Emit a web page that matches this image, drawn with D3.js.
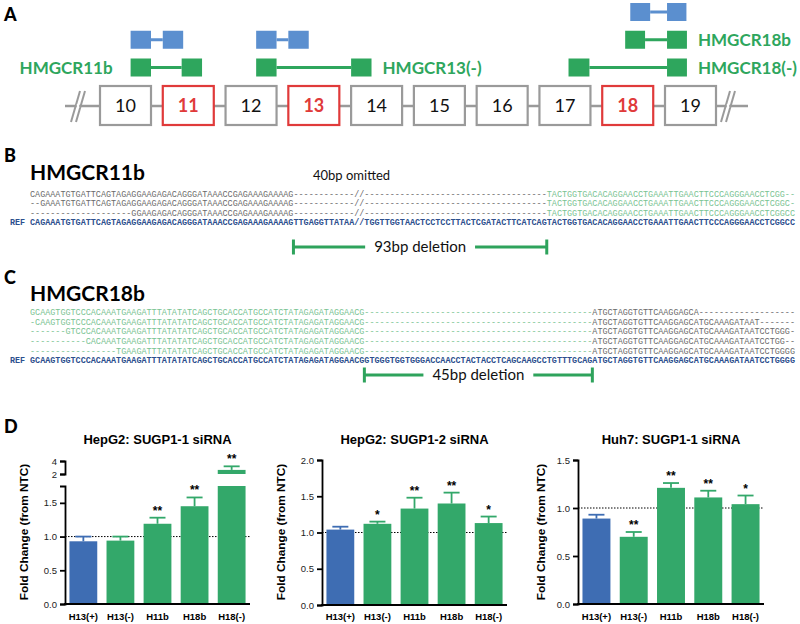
<!DOCTYPE html>
<html><head><meta charset="utf-8">
<script src="https://cdn.jsdelivr.net/npm/d3@7"></script>
<style>body{margin:0;background:#fff}svg{display:block}</style>
</head><body><svg id="c" width="800" height="624"></svg>
<script>
// ---------- Panel A data ----------
const exonLabels = ["10","11","12","13","14","15","16","17","18","19"];
const exonHighlighted = [false,true,false,true,false,false,false,false,true,false];
const isoformNames = ["", "HMGCR11b", "", "HMGCR13(-)", "", "HMGCR18b", "HMGCR18(-)"];
const isoformKinds = ["ref","alt","ref","alt","ref","alt","alt"];
const isoformRows = [1,2,1,2,0,1,2];
const isoformLeftExon = ["10","10","12","12","18","18","17"];
const isoformLeftSpan = [[0.6,1.0],[0.6,1.0],[0.6,1.0],[0.6,1.0],[0.55,0.94],[0.45,0.84],[0.57,0.98]];
const isoformRightExon = ["11","11","13","14","19","19","19"];
const isoformRightSpan = [[0,0.4],[0.37,0.77],[0,0.4],[0,0.4],[0.04,0.42],[0.04,0.43],[0.04,0.43]];
const isoformLabelSide = [null,"left",null,"right",null,"right","right"];

// ---------- Panel B data ----------
const seqBTitle = "HMGCR11b";
const seqBNote = "40bp omitted";
const seqBRef = "CAGAAATGTGATTCAGTAGAGGAAGAGACAGGGATAAACCGAGAAAGAAAAGTTGAGGTTATAA//TGGTTGGTAACTCCTCCTTACTCGATACTTCATCAGTACTGGTGACACAGGAACCTGAAATTGAACTTCCCAGGGAACCTCGGCC";
const seqBLeftLen = 52, seqBDelLen = 50, seqBOmitCol = 64;
const seqBReads = [
 ["CAGAAATGTGATTCAGTAGAGGAAGAGACAGGGATAAACCGAGAAAGAAAAG","TACTGGTGACACAGGAACCTGAAATTGAACTTCCCAGGGAACCTCGG"],
 ["GAAATGTGATTCAGTAGAGGAAGAGACAGGGATAAACCGAGAAAGAAAAG","TACTGGTGACACAGGAACCTGAAATTGAACTTCCCAGGGAACCTCGGC"],
 ["GGAAGAGACAGGGATAAACCGAGAAAGAAAAG","TACTGGTGACACAGGAACCTGAAATTGAACTTCCCAGGGAACCTCGGCC"]
];
const seqBDeletionLabel = "93bp deletion";

// ---------- Panel C data ----------
const seqCTitle = "HMGCR18b";
const seqCRef = "GCAAGTGGTCCCACAAATGAAGATTTATATATCAGCTGCACCATGCCATCTATAGAGATAGGAACGGTGGGTGGTGGGACCAACCTACTACCTCAGCAAGCCTGTTTGCAGATGCTAGGTGTTCAAGGAGCATGCAAAGATAATCCTGGGG";
const seqCLeftLen = 66, seqCDelLen = 45;
const seqCReads = [
 ["GCAAGTGGTCCCACAAATGAAGATTTATATATCAGCTGCACCATGCCATCTATAGAGATAGGAACG","ATGCTAGGTGTTCAAGGAGCA"],
 ["CAAGTGGTCCCACAAATGAAGATTTATATATCAGCTGCACCATGCCATCTATAGAGATAGGAACG","ATGCTAGGTGTTCAAGGAGCATGCAAAGATAAT"],
 ["GTCCCACAAATGAAGATTTATATATCAGCTGCACCATGCCATCTATAGAGATAGGAACG","ATGCTAGGTGTTCAAGGAGCATGCAAAGATAATCCTGGG"],
 ["CACAAATGAAGATTTATATATCAGCTGCACCATGCCATCTATAGAGATAGGAACG","ATGCTAGGTGTTCAAGGAGCATGCAAAGATAATCCTGG"],
 ["TGAAGATTTATATATCAGCTGCACCATGCCATCTATAGAGATAGGAACG","ATGCTAGGTGTTCAAGGAGCATGCAAAGATAATCCTGGGG"]
];
const seqCDeletionLabel = "45bp deletion";

// ---------- Panel D data ----------
const categories = ["H13(+)","H13(-)","H11b","H18b","H18(-)"];
const barKinds = ["ref","alt","alt","alt","alt"];
const chartTitles = ["HepG2: SUGP1-1 siRNA","HepG2: SUGP1-2 siRNA","Huh7: SUGP1-1 siRNA"];
const yAxisTitle = "Fold Change (from NTC)";
const hepg2si1Mean = [0.93,0.94,1.19,1.45,2.63];
const hepg2si1Err  = [0.07,0.06,0.09,0.13,0.55];
const hepg2si1Sig  = ["","","**","**","**"];
const hepg2si2Mean = [1.04,1.12,1.33,1.40,1.13];
const hepg2si2Err  = [0.04,0.03,0.15,0.15,0.09];
const hepg2si2Sig  = ["","*","**","**","*"];
const huh7si1Mean  = [0.89,0.70,1.21,1.11,1.04];
const huh7si1Err   = [0.04,0.05,0.05,0.07,0.09];
const huh7si1Sig   = ["","**","**","**","*"];
const yTicksHepg2si1 = [0,0.5,1.0,1.5];
const yTicksHepg2si1Upper = [2,4];
const yTicksHepg2si2 = [0,0.5,1.0,1.5,2.0];
const yTicksHuh7si1 = [0,0.5,1.0,1.5];

// ---------- styles ----------
const GREEN_A = "#2ea65d", BLUE_A = "#5b8fcf", GRAY = "#9a9a9a", RED = "#e03a3a";
const BAR_BLUE = "#3e6db3", BAR_GREEN = "#33a86a";
const SANS = "Lato, 'Open Sans', sans-serif";
const ARIAL = "'Liberation Sans', Arial, sans-serif";
const MONO = "'Liberation Mono', 'Courier New', monospace";

const svg = d3.select("#c");

// panel letters
[["A",21],["B",162],["C",284],["D",433]].forEach(([t,y]) => {
  svg.append("text").attr("x",4).attr("y",y).text(t)
    .attr("font-family",SANS).attr("font-weight",900).attr("font-size",18).attr("fill","#000");
});

// ================= Panel A =================
const exW = 51, exTop = 86, exH = 39, backboneY = 106;
const ex = d3.scaleLinear().domain([0, exonLabels.length-1]).range([100, 665]);
const exX = lab => ex(exonLabels.indexOf(lab));
const gA = svg.append("g");
gA.append("line").attr("x1", ex(0)-35).attr("x2", ex(9)+exW+32)
  .attr("y1", backboneY).attr("y2", backboneY).attr("stroke", GRAY).attr("stroke-width", 2.5);
// break marks
[ex(0)-22, ex(9)+exW+12].forEach(cx => {
  [-2.5, 2.5].forEach(o => {
    gA.append("line").attr("x1", cx+o-4.5).attr("y1", backboneY+16).attr("x2", cx+o+4.5).attr("y2", backboneY-15)
      .attr("stroke", GRAY).attr("stroke-width", 2);
  });
  gA.append("rect").attr("x", cx-1.2).attr("y", backboneY-2).attr("width", 2.4).attr("height", 4).attr("fill","#fff");
});
exonLabels.forEach((lab,i) => {
  const hl = exonHighlighted[i];
  gA.append("rect").attr("x", ex(i)).attr("y", exTop).attr("width", exW).attr("height", exH)
    .attr("fill","#fff").attr("stroke", hl ? RED : GRAY).attr("stroke-width", 2.2);
  gA.append("text").attr("x", ex(i)+exW/2).attr("y", exTop+exH/2+6.5).attr("text-anchor","middle")
    .attr("font-family", SANS).attr("font-size", 18).attr("font-weight", hl ? 700 : 400)
    .attr("fill", hl ? RED : "#111").text(lab);
});
const rowY = d3.scaleLinear().domain([0,2]).range([12, 67.5]);
const boxW = w => w*exW;
isoformNames.forEach((name,i) => {
  const col = isoformKinds[i] === "ref" ? BLUE_A : GREEN_A;
  const cy = rowY(isoformRows[i]);
  const lx0 = exX(isoformLeftExon[i]) + isoformLeftSpan[i][0]*exW;
  const lx1 = exX(isoformLeftExon[i]) + isoformLeftSpan[i][1]*exW;
  const rx0 = exX(isoformRightExon[i]) + isoformRightSpan[i][0]*exW;
  const rx1 = exX(isoformRightExon[i]) + isoformRightSpan[i][1]*exW;
  gA.append("line").attr("x1", lx1).attr("x2", rx0).attr("y1", cy).attr("y2", cy)
    .attr("stroke", col).attr("stroke-width", 3);
  gA.append("rect").attr("x", lx0).attr("y", cy-9).attr("width", lx1-lx0).attr("height", 18).attr("fill", col);
  gA.append("rect").attr("x", rx0).attr("y", cy-9).attr("width", rx1-rx0).attr("height", 18).attr("fill", col);
  if (isoformLabelSide[i]) {
    const left = isoformLabelSide[i] === "left";
    gA.append("text").attr("x", left ? lx0-18 : rx1+11).attr("y", cy+6)
      .attr("text-anchor", left ? "end" : "start")
      .attr("font-family", SANS).attr("font-weight", 700).attr("font-size", 17)
      .attr("fill", col).text(name);
  }
});

// ================= Sequence panels =================
const NCOL = 151;
const col = d3.scaleLinear().domain([0, NCOL]).range([30, 795]);
const SEQ_GRAY = "#6a6a6a", SEQ_GREEN = "#79c392", SEQ_REF = "#2d4f8e", DEL_GREEN = "#2ea35c";
function seqText(g, startCol, str, y, color, weight) {
  if (!str.length) return;
  g.append("text").attr("x", col(startCol)).attr("y", y)
    .attr("textLength", col(startCol+str.length)-col(startCol)).attr("lengthAdjust","spacingAndGlyphs")
    .attr("font-family", MONO).attr("font-size", 8.4).attr("font-weight", weight || 400)
    .attr("fill", color).text(str);
}
const dashes = n => "-".repeat(Math.max(0,n));
function delMarker(g, c0, c1, y, label) {
  const x0 = col(c0), x1 = col(c1), xm = (x0+x1)/2;
  const t = g.append("text").attr("x", xm).attr("y", y+5).attr("text-anchor","middle")
    .attr("font-family", SANS).attr("font-size", 15).attr("fill","#111").text(label);
  const tw = t.node().getComputedTextLength();
  g.append("line").attr("x1", x0).attr("x2", xm-tw/2-9).attr("y1", y).attr("y2", y).attr("stroke", DEL_GREEN).attr("stroke-width", 3);
  g.append("line").attr("x1", xm+tw/2+9).attr("x2", x1).attr("y1", y).attr("y2", y).attr("stroke", DEL_GREEN).attr("stroke-width", 3);
  [x0, x1].forEach(x => g.append("line").attr("x1", x).attr("x2", x).attr("y1", y-7.5).attr("y2", y+7.5)
    .attr("stroke", DEL_GREEN).attr("stroke-width", 3));
}

// Panel B
const gB = svg.append("g");
gB.append("text").attr("x", 30).attr("y", 180).attr("font-family", SANS).attr("font-weight", 700)
  .attr("font-size", 21).attr("fill","#000").text(seqBTitle);
gB.append("text").attr("x", 313).attr("y", 180).attr("font-family", SANS).attr("font-size", 13)
  .attr("fill","#111").text(seqBNote);
const rowB = d3.scaleLinear().domain([0, seqBReads.length]).range([197, 225]);
seqBReads.forEach((r,i) => {
  const y = rowB(i);
  const left = dashes(seqBLeftLen - r[0].length) + r[0];
  let mid = dashes(seqBDelLen);
  const o = seqBOmitCol - seqBLeftLen;
  mid = mid.slice(0,o) + "//" + mid.slice(o+2);
  seqText(gB, 0, left + mid, y, SEQ_GRAY);
  const right = r[1] + dashes(NCOL - seqBLeftLen - seqBDelLen - r[1].length);
  seqText(gB, seqBLeftLen + seqBDelLen, right, y, SEQ_GREEN);
});
{
  const y = rowB(seqBReads.length);
  gB.append("text").attr("x", 10).attr("y", y).attr("font-family", MONO).attr("font-size", 8.4)
    .attr("font-weight",700).attr("fill", SEQ_REF).text("REF");
  seqText(gB, 0, seqBRef, y, SEQ_REF, 700);
}
delMarker(gB, seqBLeftLen, seqBLeftLen + seqBDelLen, 247, seqBDeletionLabel);

// Panel C
const gC = svg.append("g");
gC.append("text").attr("x", 30).attr("y", 301).attr("font-family", SANS).attr("font-weight", 700)
  .attr("font-size", 21).attr("fill","#000").text(seqCTitle);
const rowC = d3.scaleLinear().domain([0, seqCReads.length]).range([315, 363.3]);
seqCReads.forEach((r,i) => {
  const y = rowC(i);
  const left = dashes(seqCLeftLen - r[0].length) + r[0] + dashes(seqCDelLen);
  seqText(gC, 0, left, y, SEQ_GREEN);
  const right = r[1] + dashes(NCOL - seqCLeftLen - seqCDelLen - r[1].length);
  seqText(gC, seqCLeftLen + seqCDelLen, right, y, SEQ_GRAY);
});
{
  const y = rowC(seqCReads.length);
  gC.append("text").attr("x", 10).attr("y", y).attr("font-family", MONO).attr("font-size", 8.4)
    .attr("font-weight",700).attr("fill", SEQ_REF).text("REF");
  seqText(gC, 0, seqCRef, y, SEQ_REF, 700);
}
delMarker(gC, seqCLeftLen, seqCLeftLen + seqCDelLen, 375, seqCDeletionLabel);

// ================= Panel D: bar charts =================
const charts = [
  {mean: hepg2si1Mean, err: hepg2si1Err, sig: hepg2si1Sig, ticks: yTicksHepg2si1, ymax: 1.75,
   left: 65, right: 250, bottom: 604, top: 486, titleX: 28,
   upper: {domain: [2,4], range: [474, 461], ticks: yTicksHepg2si1Upper}},
  {mean: hepg2si2Mean, err: hepg2si2Err, sig: hepg2si2Sig, ticks: yTicksHepg2si2, ymax: 2.0,
   left: 322, right: 507, bottom: 605, top: 460, titleX: 285},
  {mean: huh7si1Mean, err: huh7si1Err, sig: huh7si1Sig, ticks: yTicksHuh7si1, ymax: 1.5,
   left: 578, right: 764, bottom: 604, top: 460, titleX: 545}
];
charts.forEach((c, ci) => {
  const g = svg.append("g");
  const x = d3.scaleBand().domain(categories).range([c.left, c.right]).paddingInner(0.25).paddingOuter(0.12);
  const y = d3.scaleLinear().domain([0, c.ymax]).range([c.bottom, c.top]);
  const yu = c.upper ? d3.scaleLinear().domain(c.upper.domain).range(c.upper.range) : null;

  g.append("text").attr("x", (c.left + c.right)/2).attr("y", 444).attr("text-anchor","middle")
    .attr("font-family", ARIAL).attr("font-weight", 700).attr("font-size", 13).attr("fill","#000")
    .text(chartTitles[ci]);
  g.append("text").attr("transform", `translate(${c.titleX},532) rotate(-90)`).attr("text-anchor","middle")
    .attr("font-family", ARIAL).attr("font-weight", 700).attr("font-size", 11.8).attr("fill","#000")
    .text(yAxisTitle);

  // reference line at 1.0
  g.append("line").attr("x1", c.left).attr("x2", c.right).attr("y1", y(1)).attr("y2", y(1))
    .attr("stroke","#000").attr("stroke-width",1).attr("stroke-dasharray","1.5,1.5");

  categories.forEach((cat, i) => {
    const color = barKinds[i] === "ref" ? BAR_BLUE : BAR_GREEN;
    const bx = x(cat), bw = x.bandwidth(), cx = bx + bw/2;
    const m = c.mean[i], e = c.err[i];
    let capY;
    if (yu && m > c.ymax) {
      g.append("rect").attr("x", bx).attr("y", y(c.ymax)).attr("width", bw).attr("height", y(0)-y(c.ymax)).attr("fill", color);
      g.append("rect").attr("x", bx).attr("y", yu(m)).attr("width", bw).attr("height", yu(c.upper.domain[0])-yu(m)).attr("fill", color);
      capY = yu(m+e);
      g.append("line").attr("x1", cx).attr("x2", cx).attr("y1", yu(m)).attr("y2", capY).attr("stroke", color).attr("stroke-width", 1.8);
    } else {
      g.append("rect").attr("x", bx).attr("y", y(m)).attr("width", bw).attr("height", y(0)-y(m)).attr("fill", color);
      capY = y(m+e);
      g.append("line").attr("x1", cx).attr("x2", cx).attr("y1", y(m)).attr("y2", capY).attr("stroke", color).attr("stroke-width", 1.8);
    }
    g.append("line").attr("x1", cx-8).attr("x2", cx+8).attr("y1", capY).attr("y2", capY).attr("stroke", color).attr("stroke-width", 1.8);
    if (c.sig[i]) {
      g.append("text").attr("x", cx).attr("y", capY-3).attr("text-anchor","middle")
        .attr("font-family", ARIAL).attr("font-weight",700).attr("font-size", 12).attr("fill","#000").text(c.sig[i]);
    }
  });

  // y axis
  const ay = g.append("g").attr("transform", `translate(${c.left},0)`)
    .call(d3.axisLeft(y).tickValues(c.ticks).tickSize(5).tickSizeOuter(5).tickFormat(d3.format(".1f")));
  if (yu) {
    g.append("g").attr("transform", `translate(${c.left},0)`)
      .call(d3.axisLeft(yu).tickValues(c.upper.ticks).tickSize(5).tickSizeOuter(5).tickFormat(d3.format("d")));
  }
  g.selectAll(".domain, .tick line").attr("stroke","#000").attr("stroke-width",1.8);
  g.selectAll(".tick text").attr("font-family", ARIAL).attr("font-size", 9.5).attr("fill","#222");

  // x axis
  g.append("line").attr("x1", c.left-0.9).attr("x2", c.right).attr("y1", c.bottom).attr("y2", c.bottom)
    .attr("stroke","#000").attr("stroke-width",1.8);
  categories.forEach(cat => {
    g.append("text").attr("x", x(cat)+x.bandwidth()/2).attr("y", 620).attr("text-anchor","middle")
      .attr("font-family", ARIAL).attr("font-weight",700).attr("font-size", 9.5).attr("fill","#000").text(cat);
  });
});
</script>
</body></html>
